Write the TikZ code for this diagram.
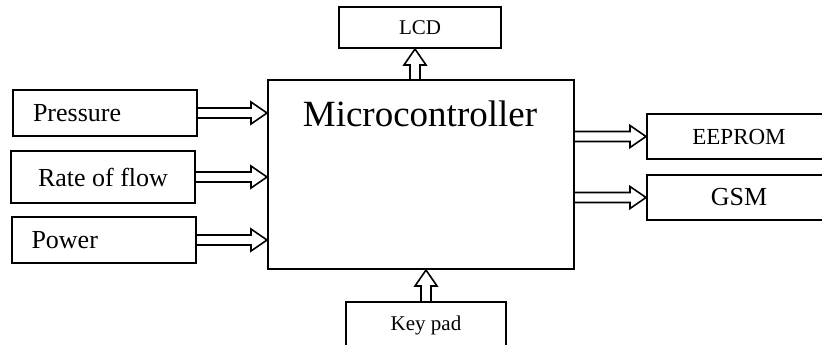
\documentclass[tikz,border=0pt]{standalone}
\usepackage{fontspec}
\setmainfont{Liberation Serif}
\usetikzlibrary{calc}
\tikzset{
  blk/.style={draw,line width=1pt,minimum height=23pt,inner sep=0pt,font=\fontsize{13}{15}\selectfont},
  lblk/.style={blk,text width=72pt,inner xsep=10pt,align=left},
  fat/.style={line width=0.8pt,to path={
    ($(\tikztostart)!2.5pt!90:(\tikztotarget)$)
    -- ($($(\tikztotarget)!8pt!(\tikztostart)$)!2.5pt!-90:(\tikztostart)$)
    -- ($($(\tikztotarget)!8pt!(\tikztostart)$)!5.5pt!-90:(\tikztostart)$)
    -- (\tikztotarget)
    -- ($($(\tikztotarget)!8pt!(\tikztostart)$)!5.5pt!90:(\tikztostart)$)
    -- ($($(\tikztotarget)!8pt!(\tikztostart)$)!2.5pt!90:(\tikztostart)$)
    -- ($(\tikztostart)!2.5pt!-90:(\tikztotarget)$)}}
}
\begin{document}
\begin{tikzpicture}[x=0.5pt,y=-0.5pt]
  \useasboundingbox (0,0) rectangle (822,344);
  % main block
  \node[blk,minimum width=153pt,minimum height=94.5pt] (mc) at (421,174.5) {};
  \node[font=\fontsize{18.5}{22}\selectfont] (mctext) at (420,114) {Microcontroller};
  % inputs
  \node[lblk] (pres) at (105,113) {Pressure};
  \node[blk,minimum width=92pt,minimum height=26pt] (rate) at (103,177) {Rate of flow};
  \node[lblk] (pow) at (103.5,240) {Power};
  % outputs
  \node[blk,minimum width=81pt,minimum height=20.5pt,font=\fontsize{10.5}{12}\selectfont] (lcd) at (420,27.5) {LCD};
  \node[blk,minimum width=92pt,minimum height=22.5pt,font=\fontsize{11.5}{13}\selectfont] (eep) at (739,136.5) {EEPROM};
  \node[blk,minimum width=92pt,minimum height=22.5pt] (gsm) at (739,197.5) {GSM};
  \node[blk,minimum width=80pt,minimum height=23pt,font=\fontsize{10.5}{12}\selectfont] (key) at (426,325) {Key pad};
  % links
  \draw[fat] (pres.east) to (pres.east -| mc.west);
  \draw[fat] (rate.east) to (rate.east -| mc.west);
  \draw[fat] (pow.east) to (pow.east -| mc.west);
  \draw[fat] ([xshift=-2.5pt]lcd.south |- mc.north) to ([xshift=-2.5pt]lcd.south);
  \draw[fat] (mc.east |- eep.west) to (eep.west);
  \draw[fat] (mc.east |- gsm.west) to (gsm.west);
  \draw[fat] (key.north) to (key.north |- mc.south);
\end{tikzpicture}
\end{document}
